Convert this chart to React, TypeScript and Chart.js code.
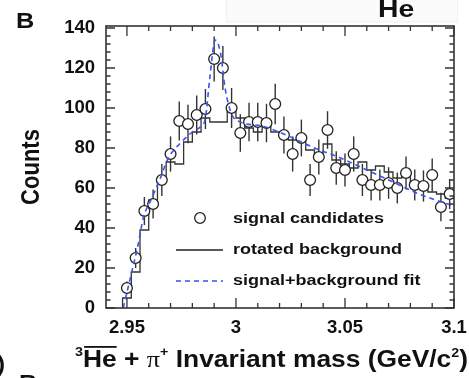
import React, { useEffect, useRef } from "react";
import { Chart, registerables } from "chart.js";

Chart.register(...registerables);

// ---- data ----
const binCenters = [
  2.950, 2.954, 2.958, 2.962, 2.966, 2.970, 2.974, 2.978, 2.982, 2.986,
  2.990, 2.994, 2.998, 3.002, 3.006, 3.010, 3.014, 3.018, 3.022, 3.026,
  3.030, 3.034, 3.038, 3.042, 3.046, 3.050, 3.054, 3.058, 3.062, 3.066,
  3.070, 3.074, 3.078, 3.082, 3.086, 3.090, 3.094, 3.098,
];
const binWidth = 0.004;
const signalCounts = [
  10, 25, 48.5, 52, 64, 77, 93.5, 92, 96.5, 99.5,
  124.5, 120, 100, 87.5, 93, 93, 92.5, 102, 86.5, 77,
  85, 64, 75.5, 89, 70, 69, 77, 64, 61.5, 61.5,
  62.5, 60, 67.5, 61.5, 61, 66.5, 50.5, 57,
];
const signalErrors = [
  3.2, 5, 7, 7.2, 8, 8.8, 9.7, 9.6, 9.8, 10,
  11.2, 11, 10, 9.4, 9.6, 9.6, 9.6, 10.1, 9.3, 8.8,
  9.2, 8, 8.7, 9.4, 8.4, 8.3, 8.8, 8, 7.8, 7.8,
  7.9, 7.7, 8.2, 7.8, 7.8, 8.2, 7.1, 7.5,
];
const rotatedBackground = [
  5, 18, 39, 54, 65, 73, 72, 83, 88, 95,
  93, 93, 99, 95, 90, 88, 93, 88, 86, 84,
  85, 79, 77, 82, 74, 72, 70, 73, 69, 71,
  68, 65, 66, 62, 60, 58, 57, 55,
];
const fitMass = [
  2.9483, 2.952, 2.955, 2.9575, 2.961, 2.965, 2.969, 2.975, 2.980, 2.984,
  2.986, 2.988, 2.9905, 2.993, 2.995, 2.998, 3.002, 3.012, 3.024, 3.036,
  3.048, 3.060, 3.072, 3.084, 3.100,
];
const fitCounts = [
  0, 17, 31, 45, 54, 64, 75, 83, 88, 91,
  95, 115, 134, 127, 110, 97, 93, 91, 86, 80,
  75, 69, 63, 57, 51,
];
const legendLabels = ["signal candidates", "rotated background", "signal+background fit"];
const xMin = 2.9404;
const xMax = 3.1;
const yMin = 0;
const yMax = 141;

const FONT = '"Liberation Sans", Arial, Helvetica, sans-serif';
const FIT_COLOR = "#3c50f0";

function stretchedText(ctx: CanvasRenderingContext2D, text: string, x: number, y: number, font: string, sx: number) {
  ctx.save();
  ctx.font = font;
  ctx.translate(x, y);
  ctx.scale(sx, 1);
  ctx.fillText(text, 0, 0);
  ctx.restore();
}

const decorPlugin = {
  id: "decor",
  beforeDraw(chart: any) {
    const ctx = chart.ctx as CanvasRenderingContext2D;
    ctx.save();
    ctx.fillStyle = "#fbfbfb";
    ctx.fillRect(226, 0, 232, 22);
    ctx.strokeStyle = "#f0f0f0";
    ctx.lineWidth = 1;
    ctx.strokeRect(226.5, -1, 231, 23);
    ctx.restore();
  },
  beforeDatasetsDraw(chart: any) {
    const ctx = chart.ctx as CanvasRenderingContext2D;
    const xs = chart.scales.x;
    const ys = chart.scales.y;
    ctx.save();
    ctx.strokeStyle = "#333";
    ctx.lineWidth = 1.4;
    binCenters.forEach((c, i) => {
      const px = xs.getPixelForValue(c);
      const y1 = ys.getPixelForValue(signalCounts[i] - signalErrors[i]);
      const y2 = ys.getPixelForValue(signalCounts[i] + signalErrors[i]);
      ctx.beginPath();
      ctx.moveTo(px, y1);
      ctx.lineTo(px, y2);
      ctx.stroke();
    });
    ctx.restore();
  },
  afterDraw(chart: any) {
    const ctx = chart.ctx as CanvasRenderingContext2D;
    const a = chart.chartArea;
    const xs = chart.scales.x;
    const ys = chart.scales.y;
    ctx.save();
    // frame
    ctx.strokeStyle = "#333";
    ctx.lineWidth = 1.6;
    ctx.strokeRect(a.left, a.top, a.right - a.left, a.bottom - a.top);
    // inner ticks
    ctx.lineWidth = 1.3;
    ctx.beginPath();
    for (let k = Math.ceil(xs.min / 0.01 - 1e-6); k * 0.01 <= xs.max + 1e-6; k++) {
      const px = xs.getPixelForValue(k * 0.01);
      const len = k % 5 === 0 ? 10 : 5;
      ctx.moveTo(px, a.bottom);
      ctx.lineTo(px, a.bottom - len);
      ctx.moveTo(px, a.top);
      ctx.lineTo(px, a.top + len);
    }
    for (let k = 0; k * 4 <= ys.max; k++) {
      const py = ys.getPixelForValue(k * 4);
      const len = k % 5 === 0 ? 9 : 4.5;
      ctx.moveTo(a.left, py);
      ctx.lineTo(a.left + len, py);
      ctx.moveTo(a.right, py);
      ctx.lineTo(a.right - len, py);
    }
    ctx.stroke();

    // legend
    ctx.fillStyle = "#111";
    ctx.textBaseline = "alphabetic";
    ctx.textAlign = "left";
    const lf = `bold 15px ${FONT}`;
    ctx.beginPath();
    ctx.arc(200, 218, 5.3, 0, Math.PI * 2);
    ctx.fillStyle = "#fff";
    ctx.fill();
    ctx.strokeStyle = "#222";
    ctx.lineWidth = 1.3;
    ctx.stroke();
    ctx.fillStyle = "#111";
    stretchedText(ctx, legendLabels[0], 233, 222.5, lf, 1.2);
    ctx.beginPath();
    ctx.strokeStyle = "#222";
    ctx.lineWidth = 1.5;
    ctx.moveTo(176, 250);
    ctx.lineTo(223, 250);
    ctx.stroke();
    stretchedText(ctx, legendLabels[1], 233, 253.5, lf, 1.2);
    ctx.beginPath();
    ctx.strokeStyle = FIT_COLOR;
    ctx.setLineDash([5, 4]);
    ctx.lineWidth = 1.6;
    ctx.moveTo(176, 281);
    ctx.lineTo(223, 281);
    ctx.stroke();
    ctx.setLineDash([]);
    stretchedText(ctx, legendLabels[2], 233, 284.5, lf, 1.2);

    // x-axis title with superscripts and overline
    const big = `bold 24px ${FONT}`;
    const small = `bold 13px ${FONT}`;
    const piFont = `24px "Liberation Serif", "DejaVu Serif", serif`;
    const segs = [
      { t: "3", f: small, dy: -11, over: false },
      { t: "He", f: big, dy: 0, over: true },
      { t: " + ", f: big, dy: 0, over: false },
      { t: "\u03c0", f: piFont, dy: 0, over: false },
      { t: "+", f: small, dy: -11, over: false },
      { t: " Invariant mass (GeV/c", f: big, dy: 0, over: false },
      { t: "2", f: small, dy: -10, over: false },
      { t: ")", f: big, dy: 0, over: false },
    ];
    let total = 0;
    const widths = segs.map((s) => {
      ctx.font = s.f;
      const w = ctx.measureText(s.t).width;
      total += w;
      return w;
    });
    const x0 = 75;
    const sx = (468 - x0) / total;
    ctx.save();
    ctx.translate(x0, 367);
    ctx.scale(sx, 1);
    ctx.fillStyle = "#111";
    let cx = 0;
    segs.forEach((s, i) => {
      ctx.font = s.f;
      ctx.fillText(s.t, cx, s.dy);
      if (s.over) {
        ctx.fillRect(cx + 1, -21, widths[i] - 1, 1.8);
      }
      cx += widths[i];
    });
    ctx.restore();

    // y-axis title
    ctx.save();
    ctx.translate(39, (a.top + a.bottom) / 2);
    ctx.rotate(-Math.PI / 2);
    ctx.textAlign = "center";
    ctx.font = `bold 22px ${FONT}`;
    ctx.scale(1, 1.15);
    ctx.fillText("Counts", 0, 0);
    ctx.restore();

    // panel decorations
    stretchedText(ctx, "B", 16, 28, `bold 22px ${FONT}`, 1.15);
    stretchedText(ctx, "He", 378, 17, `bold 24px ${FONT}`, 1.18);
    stretchedText(ctx, ")", -3, 371, `bold 22px ${FONT}`, 1.1);
    stretchedText(ctx, "B", 19, 390, `bold 22px ${FONT}`, 1.15);
    ctx.restore();
  },
};

export default function App() {
  const ref = useRef<HTMLCanvasElement>(null);
  useEffect(() => {
    document.body.style.margin = "0";
    if (!ref.current) return;
    const histPoints: { x: number; y: number }[] = [{ x: binCenters[0] - binWidth / 2, y: 0 }];
    binCenters.forEach((c, i) => {
      histPoints.push({ x: c - binWidth / 2, y: rotatedBackground[i] });
      histPoints.push({ x: c + binWidth / 2, y: rotatedBackground[i] });
    });
    const tickFont = { family: FONT, size: 18.5, weight: "bold" as const };
    const chart = new Chart(ref.current, {
      type: "scatter",
      data: {
        datasets: [
          {
            label: legendLabels[0],
            data: binCenters.map((x, i) => ({ x, y: signalCounts[i] })),
            showLine: false,
            pointRadius: 5.4,
            pointBackgroundColor: "#fff",
            pointBorderColor: "#222",
            pointBorderWidth: 1.3,
            order: 1,
          },
          {
            label: legendLabels[1],
            data: histPoints,
            showLine: true,
            pointRadius: 0,
            borderColor: "#333",
            borderWidth: 1.3,
            order: 2,
          },
          {
            label: legendLabels[2],
            data: fitMass.map((x, i) => ({ x, y: fitCounts[i] })),
            showLine: true,
            pointRadius: 0,
            borderColor: FIT_COLOR,
            borderWidth: 1.6,
            borderDash: [5, 4],
            cubicInterpolationMode: "monotone",
            order: 0,
          },
        ],
      },
      options: {
        responsive: false,
        animation: false,
        devicePixelRatio: 1,
        layout: { padding: { left: 8, right: 15, top: 26, bottom: 0 } },
        plugins: { legend: { display: false }, tooltip: { enabled: false } },
        scales: {
          x: {
            type: "linear",
            min: xMin,
            max: xMax,
            grid: { display: false, drawTicks: false },
            border: { display: false },
            afterFit: (s: any) => {
              s.height = 70;
              s.paddingLeft = 0;
              s.paddingRight = 0;
            },
            ticks: {
              stepSize: 0.05,
              includeBounds: false,
              autoSkip: false,
              maxRotation: 0,
              padding: 9,
              color: "#111",
              font: tickFont,
              callback: (v: any) => String(Number(Number(v).toFixed(2))),
            },
          },
          y: {
            type: "linear",
            min: yMin,
            max: yMax,
            grid: { display: false, drawTicks: false },
            border: { display: false },
            afterFit: (s: any) => {
              s.width = 98;
              s.paddingTop = 0;
              s.paddingBottom = 0;
            },
            ticks: {
              stepSize: 20,
              includeBounds: false,
              padding: 11,
              color: "#111",
              font: tickFont,
            },
          },
        },
      },
      plugins: [decorPlugin],
    } as any);
    return () => chart.destroy();
  }, []);
  return (
    <div style={{ width: 469, height: 378, background: "#fff" }}>
      <canvas ref={ref} width={469} height={378} style={{ display: "block" }} />
    </div>
  );
}
